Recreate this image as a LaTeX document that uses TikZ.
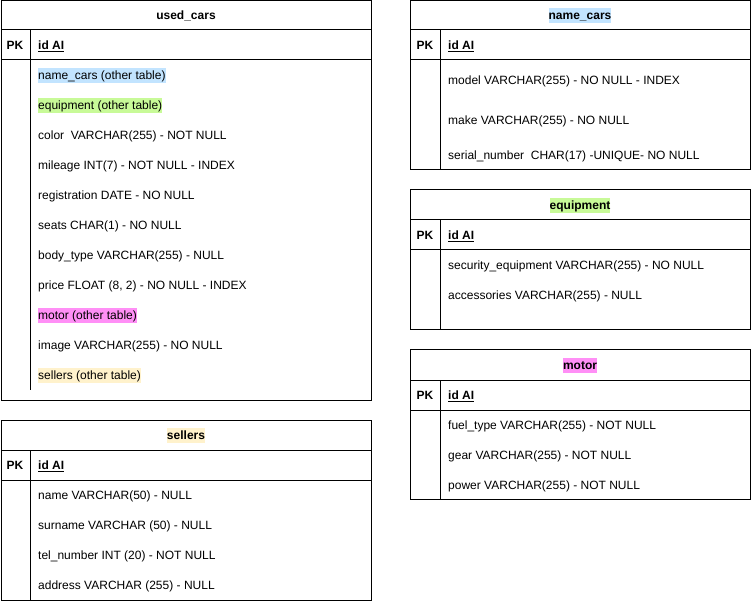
\documentclass[tikz,border=0pt]{standalone}
\usepackage{fontspec}
\setmainfont{Liberation Sans}
\definecolor{hlblue}{HTML}{C2E4FF}
\definecolor{hlgreen}{HTML}{C8FA98}
\definecolor{hlpink}{HTML}{FF8FF6}
\definecolor{hlyellow}{HTML}{FFF2CC}
\begin{document}
\begin{tikzpicture}[x=1pt,y=-1pt,
  tline/.style={draw=black,line width=1pt},
  txt/.style={font=\fontsize{12}{14}\selectfont,anchor=west,inner xsep=0pt,inner ysep=0.75pt,text height=10.5pt,text depth=3pt,yshift=-0.8pt},
  ttl/.style={font=\fontsize{12}{14}\selectfont\bfseries,inner xsep=0pt,inner ysep=0.75pt,text height=10.5pt,text depth=3pt,yshift=-0.8pt},
  pk/.style={font=\fontsize{12}{14}\selectfont\bfseries,inner sep=0pt,text height=10.5pt,text depth=3pt,yshift=-0.8pt},
  idai/.style={txt,font=\fontsize{12}{14}\selectfont\bfseries},
  hb/.style={txt,fill=hlblue},
  hg/.style={txt,fill=hlgreen},
  hp/.style={txt,fill=hlpink},
  hy/.style={txt,fill=hlyellow}]
\useasboundingbox (0,0) rectangle (752,601);
% ---------- used_cars ----------
\draw[tline] (1,1) rectangle (371,400);
\draw[tline] (1,30) -- (371,30);
\draw[tline] (1,60) -- (371,60);
\draw[tline] (30.5,30) -- (30.5,390);
\node[ttl] (uct) at (186,15) {used\_cars};
\node[pk] (ucpk) at (15,45) {PK};
\node[idai] (ucid) at (38,45) {\underline{id AI}};
\node[hb] (uc1) at (38,75) {name\_cars (other table)};
\node[hg] (uc2) at (38,105) {equipment (other table)};
\node[txt] (uc3) at (38,135) {color\ \ VARCHAR(255) - NOT NULL};
\node[txt] (uc4) at (38,165) {mileage INT(7) - NOT NULL - INDEX};
\node[txt] (uc5) at (38,195) {registration DATE - NO NULL};
\node[txt] (uc6) at (38,225) {seats CHAR(1) - NO NULL};
\node[txt] (uc7) at (38,255) {body\_type VARCHAR(255) - NULL};
\node[txt] (uc8) at (38,285) {price FLOAT (8, 2) - NO NULL - INDEX};
\node[hp] (uc9) at (38,315) {motor (other table)};
\node[txt] (uc10) at (38,345) {image VARCHAR(255) - NO NULL};
\node[hy] (uc11) at (38,375) {sellers (other table)};
% ---------- sellers ----------
\draw[tline] (1,420) rectangle (371,600);
\draw[tline] (1,450) -- (371,450);
\draw[tline] (1,480) -- (371,480);
\draw[tline] (30.5,450) -- (30.5,600);
\node[ttl,fill=hlyellow] (st) at (186,435) {sellers};
\node[pk] (spk) at (15,465) {PK};
\node[idai] (sid) at (38,465) {\underline{id AI}};
\node[txt] (s1) at (38,495) {name VARCHAR(50) - NULL};
\node[txt] (s2) at (38,525) {surname VARCHAR (50) - NULL};
\node[txt] (s3) at (38,555) {tel\_number INT (20) - NOT NULL};
\node[txt] (s4) at (38,585) {address VARCHAR (255) - NULL};
% ---------- name_cars ----------
\draw[tline] (410.5,1) rectangle (750,170);
\draw[tline] (410.5,30) -- (750,30);
\draw[tline] (410.5,60) -- (750,60);
\draw[tline] (440.5,30) -- (440.5,170);
\node[ttl,fill=hlblue] (nt) at (580,15) {name\_cars};
\node[pk] (npk) at (425,45) {PK};
\node[idai] (nid) at (448,45) {\underline{id AI}};
\node[txt] (n1) at (448,80) {model VARCHAR(255) - NO NULL - INDEX};
\node[txt] (n2) at (448,120) {make VARCHAR(255) - NO NULL};
\node[txt] (n3) at (448,155) {serial\_number\ \ CHAR(17) -UNIQUE- NO NULL};
% ---------- equipment ----------
\draw[tline] (410.5,190) rectangle (750,330);
\draw[tline] (410.5,220) -- (750,220);
\draw[tline] (410.5,250) -- (750,250);
\draw[tline] (440.5,220) -- (440.5,330);
\node[ttl,fill=hlgreen] (et) at (580,205) {equipment};
\node[pk] (epk) at (425,235) {PK};
\node[idai] (eid) at (448,235) {\underline{id AI}};
\node[txt] (e1) at (448,265) {security\_equipment VARCHAR(255) - NO NULL};
\node[txt] (e2) at (448,295) {accessories VARCHAR(255) - NULL};
% ---------- motor ----------
\draw[tline] (410.5,350) rectangle (750,499);
\draw[tline] (410.5,380) -- (750,380);
\draw[tline] (410.5,410) -- (750,410);
\draw[tline] (440.5,380) -- (440.5,499);
\node[ttl,fill=hlpink] (mt) at (580,365) {motor};
\node[pk] (mpk) at (425,395) {PK};
\node[idai] (mid) at (448,395) {\underline{id AI}};
\node[txt] (m1) at (448,425) {fuel\_type VARCHAR(255) - NOT NULL};
\node[txt] (m2) at (448,455) {gear VARCHAR(255) - NOT NULL};
\node[txt] (m3) at (448,485) {power VARCHAR(255) - NOT NULL};
\end{tikzpicture}
\end{document}
